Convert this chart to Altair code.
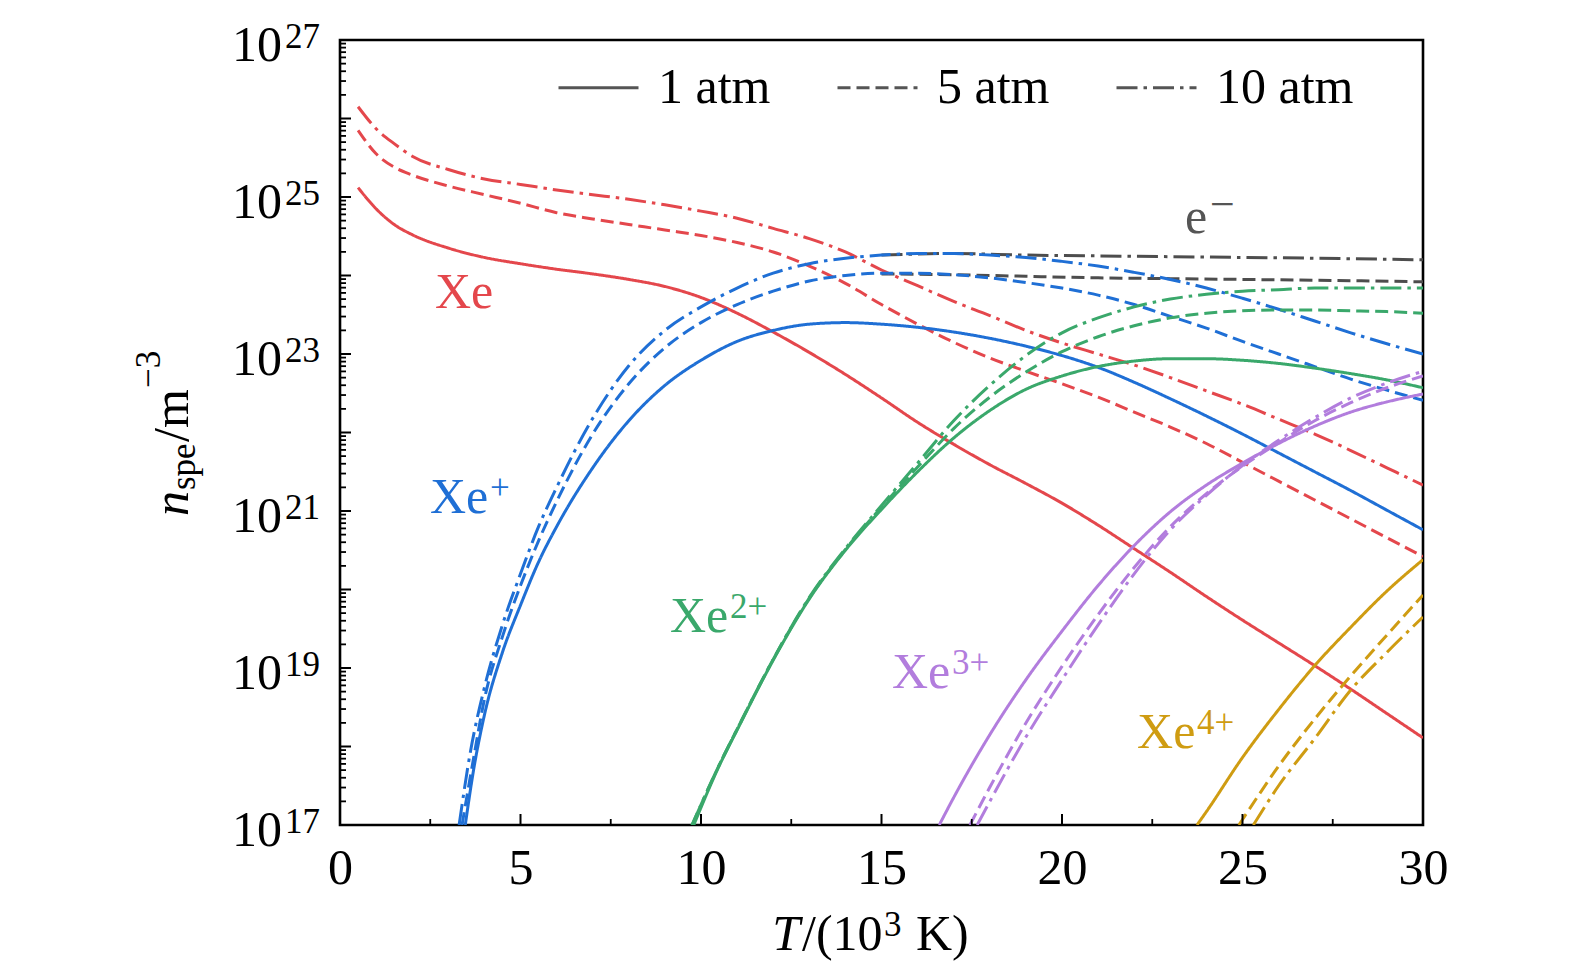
import altair as alt
import pandas as pd

FONT = "Liberation Serif"
W, H = 1083, 785

RED = "#E4474C"
BLUE = "#1F6FD5"
GREEN = "#3AA86B"
PURPLE = "#B27DDD"
GOLD = "#CF9C12"
GRAY = "#4D4D4D"

PRESSURES = ["1 atm", "5 atm", "10 atm"]
DASHES = [[1, 0], [13, 6], [21, 6, 3.5, 6]]

# ---- data: T in 10^3 K, values are log10(n / m^-3) ----
xe_T = [0.5, 1, 1.5, 2, 3, 4, 5, 6, 7, 8, 9, 10, 11, 12, 13, 14, 15, 16, 17, 18,
        19, 20, 21, 22, 23, 24, 25, 26, 27, 28, 29, 30]
xe_1 = [25.12, 24.85, 24.65, 24.52, 24.35, 24.23, 24.15, 24.08, 24.02, 23.95, 23.86,
        23.72, 23.52, 23.28, 23.02, 22.74, 22.44, 22.13, 21.85, 21.59, 21.35, 21.1,
        20.82, 20.52, 20.22, 19.91, 19.61, 19.32, 19.03, 18.73, 18.42, 18.11]
xe_5 = [25.85, 25.55, 25.38, 25.28, 25.14, 25.03, 24.92, 24.8, 24.72, 24.65, 24.58,
        24.51, 24.42, 24.3, 24.12, 23.9, 23.63, 23.38, 23.15, 22.95, 22.78, 22.62,
        22.45, 22.26, 22.07, 21.86, 21.62, 21.38, 21.14, 20.9, 20.66, 20.42]
xe_10 = [26.15, 25.87, 25.68, 25.52, 25.35, 25.23, 25.16, 25.09, 25.03, 24.97, 24.9,
         24.82, 24.73, 24.6, 24.47, 24.3, 24.07, 23.87, 23.67, 23.49, 23.3, 23.14,
         23.0, 22.86, 22.7, 22.53, 22.36, 22.17, 21.98, 21.77, 21.55, 21.33]

xe1_T_1 = [3.47, 3.7, 4, 4.5, 5, 5.5, 6, 7, 8, 9, 10, 11, 12, 13, 14, 15, 16, 17, 18,
           19, 20, 21, 22, 23, 24, 25, 26, 27, 28, 29, 30]
xe1_1 = [17.0, 17.7, 18.4, 19.2, 19.8, 20.35, 20.8, 21.55, 22.15, 22.6, 22.92, 23.16,
         23.3, 23.38, 23.4, 23.38, 23.34, 23.28, 23.2, 23.1, 22.98, 22.83, 22.64,
         22.43, 22.21, 21.98, 21.74, 21.5, 21.26, 21.01, 20.76]
xe1_T_5 = [3.38, 3.7, 4, 4.5, 5, 5.5, 6, 7, 8, 9, 10, 11, 12, 13, 14, 15, 16, 17, 18,
           19, 20, 21, 22, 23, 24, 25, 26, 27, 28, 29, 30]
xe1_5 = [17.0, 17.85, 18.6, 19.4, 20.05, 20.62, 21.12, 21.98, 22.62, 23.08, 23.4, 23.63,
         23.8, 23.93, 24.0, 24.03, 24.03, 24.01, 23.97, 23.91, 23.84, 23.75, 23.63,
         23.48, 23.33, 23.16, 23.0, 22.84, 22.68, 22.54, 22.41]
xe1_T_10 = [3.3, 3.6, 4, 4.5, 5, 5.5, 6, 7, 8, 9, 10, 11, 12, 13, 14, 15, 16, 17, 18,
            19, 20, 21, 22, 23, 24, 25, 26, 27, 28, 29, 30]
xe1_10 = [17.0, 17.9, 18.75, 19.55, 20.2, 20.8, 21.3, 22.18, 22.85, 23.3, 23.6, 23.84,
          24.03, 24.15, 24.22, 24.26, 24.28, 24.28, 24.26, 24.23, 24.18, 24.12, 24.04,
          23.95, 23.84, 23.71, 23.57, 23.42, 23.27, 23.13, 23.0]

xe2_T_1 = [9.8, 10.5, 11, 12, 13, 14, 15, 16, 17, 18, 19, 20, 21, 22, 23, 24, 25, 26,
           27, 28, 29, 30]
xe2_1 = [17.0, 17.75, 18.21, 19.1, 19.88, 20.5, 21.02, 21.5, 21.93, 22.28, 22.55, 22.72,
         22.84, 22.91, 22.94, 22.94, 22.92, 22.88, 22.82, 22.75, 22.67, 22.57]
xe2_T_hp = [9.75, 10.5, 11, 12, 13, 14, 15, 16, 17, 18, 19, 20, 21, 22, 23, 24, 25, 26,
            27, 28, 29, 30]
xe2_5 = [17.0, 17.76, 18.22, 19.11, 19.89, 20.51, 21.05, 21.56, 22.05, 22.45, 22.77,
         23.03, 23.22, 23.36, 23.46, 23.52, 23.55, 23.56, 23.56, 23.55, 23.54, 23.52]
xe2_10 = [17.0, 17.76, 18.22, 19.11, 19.9, 20.52, 21.07, 21.61, 22.15, 22.6, 22.98,
          23.27, 23.46, 23.6, 23.7, 23.76, 23.8, 23.82, 23.84, 23.84, 23.84, 23.84]

xe3_T_1 = [16.6, 17, 18, 19, 20, 21, 22, 23, 24, 25, 26, 27, 28, 29, 30]
xe3_1 = [17.0, 17.35, 18.15, 18.85, 19.47, 20.05, 20.56, 20.99, 21.33, 21.61, 21.86,
         22.08, 22.26, 22.39, 22.49]
xe3_T_5 = [17.45, 18, 19, 20, 21, 22, 23, 24, 25, 26, 27, 28, 29, 30]
xe3_5 = [17.0, 17.48, 18.3, 19.02, 19.68, 20.28, 20.8, 21.22, 21.57, 21.87, 22.15,
         22.38, 22.57, 22.72]
xe3_T_10 = [17.65, 18, 19, 20, 21, 22, 23, 24, 25, 26, 27, 28, 29, 30]
xe3_10 = [17.0, 17.3, 18.12, 18.85, 19.55, 20.2, 20.76, 21.2, 21.58, 21.9, 22.19,
          22.44, 22.63, 22.78]

xe4_T_1 = [23.74, 24, 25, 26, 27, 28, 29, 30]
xe4_1 = [17.0, 17.17, 17.86, 18.47, 19.03, 19.52, 19.98, 20.38]
xe4_T_5 = [24.9, 25, 26, 27, 28, 29, 30]
xe4_5 = [17.0, 17.07, 17.75, 18.35, 18.9, 19.42, 19.93]
xe4_T_10 = [25.3, 26, 27, 28, 29, 30]
xe4_10 = [17.0, 17.5, 18.1, 18.72, 19.2, 19.65]

el_T = [15, 17, 19, 21, 23, 25, 27, 30]
el_5 = [24.02, 24.01, 23.99, 23.97, 23.96, 23.95, 23.94, 23.92]
el_10 = [24.26, 24.28, 24.26, 24.25, 24.24, 24.23, 24.22, 24.2]

series = [
    ("e-", "5 atm", el_T, el_5), ("e-", "10 atm", el_T, el_10),
    ("Xe", "1 atm", xe_T, xe_1), ("Xe", "5 atm", xe_T, xe_5), ("Xe", "10 atm", xe_T, xe_10),
    ("Xe+", "1 atm", xe1_T_1, xe1_1), ("Xe+", "5 atm", xe1_T_5, xe1_5),
    ("Xe+", "10 atm", xe1_T_10, xe1_10),
    ("Xe2+", "1 atm", xe2_T_1, xe2_1), ("Xe2+", "5 atm", xe2_T_hp, xe2_5),
    ("Xe2+", "10 atm", xe2_T_hp, xe2_10),
    ("Xe3+", "1 atm", xe3_T_1, xe3_1), ("Xe3+", "5 atm", xe3_T_5, xe3_5),
    ("Xe3+", "10 atm", xe3_T_10, xe3_10),
    ("Xe4+", "1 atm", xe4_T_1, xe4_1), ("Xe4+", "5 atm", xe4_T_5, xe4_5),
    ("Xe4+", "10 atm", xe4_T_10, xe4_10),
]
species_colors = {"e-": GRAY, "Xe": RED, "Xe+": BLUE, "Xe2+": GREEN,
                  "Xe3+": PURPLE, "Xe4+": GOLD}

rows = []
for sp, p, Ts, Ls in series:
    for t, l in zip(Ts, Ls):
        rows.append({"T": t, "n": 10.0 ** l, "species": sp, "p": p})
df = pd.DataFrame(rows)

# species labels
lab_base = ["Xe", "Xe", "Xe", "Xe", "Xe"]
lab_sup = ["", "+", "2+", "3+", "4+"]
lab_T = [2.63, 2.49, 9.14, 15.29, 22.08]
lab_L = [23.59, 20.97, 19.46, 18.75, 17.98]
lab_col = [RED, BLUE, GREEN, PURPLE, GOLD]
lab_df = pd.DataFrame({"T": lab_T, "n": [10.0 ** v for v in lab_L],
                       "base": lab_base, "sup": lab_sup, "col": lab_col})
el_lab_df = pd.DataFrame({"T": [23.41], "n": [10.0 ** 24.54],
                          "base": ["e"], "sup": ["\u2212"]})

# ticks
x_major = [0, 5, 10, 15, 20, 25, 30]
x_minor = [2.5, 7.5, 12.5, 17.5, 22.5, 27.5]
y_decades = list(range(17, 28))
y_label_exps = [17, 19, 21, 23, 25, 27]
y_major_df = pd.DataFrame({"n": [10.0 ** k for k in y_decades]})
y_minor_df = pd.DataFrame({"n": [m * 10.0 ** k for k in range(17, 27) for m in range(2, 10)]})
x_major_df = pd.DataFrame({"T": x_major})
x_minor_df = pd.DataFrame({"T": x_minor})
y_lab_df = pd.DataFrame({"n": [10.0 ** k for k in y_label_exps],
                         "e": [str(k) for k in y_label_exps]})

xscale = alt.Scale(domain=[0, 30], nice=False, zero=False)
yscale = alt.Scale(type="log", domain=[1e17, 1e27], nice=False)
dash_scale = alt.Scale(domain=PRESSURES, range=DASHES)

xaxis = alt.Axis(values=x_major, ticks=False, tickSize=0, domain=False, grid=False,
                 labelFont=FONT, labelFontSize=50, labelColor="black",
                 labelPadding=18, labelFlush=False, labelOverlap=False,
                 format="d", title=None)

legend = alt.Legend(title=None, orient="none", legendX=217, legendY=6,
                    direction="horizontal", symbolType="stroke", symbolSize=6400,
                    symbolStrokeWidth=3, symbolStrokeColor="#555555",
                    labelFont=FONT, labelFontSize=50, labelColor="black",
                    labelOffset=18, columnPadding=60, padding=0, labelLimit=600)

X = alt.X("T:Q", scale=xscale, axis=xaxis)
Y = alt.Y("n:Q", scale=yscale, axis=None)

layers = []
for sp in ["e-", "Xe", "Xe+", "Xe2+", "Xe3+", "Xe4+"]:
    layers.append(
        alt.Chart(df).transform_filter(alt.datum.species == sp)
        .mark_line(clip=True, strokeWidth=3, color=species_colors[sp],
                   interpolate="monotone")
        .encode(x=X, y=Y,
                strokeDash=alt.StrokeDash("p:N", scale=dash_scale, legend=legend),
                detail="p:N")
    )

# tick marks (inward)
layers.append(alt.Chart(y_major_df).mark_rule(color="black", strokeWidth=2)
              .encode(y=Y, x=alt.value(0), x2=alt.value(11)))
layers.append(alt.Chart(y_minor_df).mark_rule(color="black", strokeWidth=1.8)
              .encode(y=Y, x=alt.value(0), x2=alt.value(6)))
layers.append(alt.Chart(x_major_df).mark_rule(color="black", strokeWidth=2)
              .encode(x=X, y=alt.value(H), y2=alt.value(H - 11)))
layers.append(alt.Chart(x_minor_df).mark_rule(color="black", strokeWidth=1.8)
              .encode(x=X, y=alt.value(H), y2=alt.value(H - 6)))

# y tick labels 10^k
layers.append(alt.Chart(y_lab_df).mark_text(font=FONT, fontSize=50, align="right",
                                            baseline="alphabetic", dy=21, color="black")
              .encode(y=Y, x=alt.value(-58), text=alt.value("10")))
layers.append(alt.Chart(y_lab_df).mark_text(font=FONT, fontSize=35, align="left",
                                            baseline="alphabetic", dy=8, color="black")
              .encode(y=Y, x=alt.value(-55), text="e:N"))

# species labels
layers.append(alt.Chart(lab_df).mark_text(font=FONT, fontSize=50, align="left",
                                          baseline="alphabetic")
              .encode(x=X, y=Y, text="base:N", color=alt.Color("col:N", scale=None)))
layers.append(alt.Chart(lab_df).mark_text(font=FONT, fontSize=35, align="left",
                                          baseline="alphabetic", dx=60, dy=-14)
              .encode(x=X, y=Y, text="sup:N", color=alt.Color("col:N", scale=None)))
layers.append(alt.Chart(el_lab_df).mark_text(font=FONT, fontSize=50, align="left",
                                             baseline="alphabetic", color="#555555")
              .encode(x=X, y=Y, text="base:N"))
layers.append(alt.Chart(el_lab_df).mark_text(font=FONT, fontSize=44, align="left",
                                             baseline="alphabetic", dx=25, dy=-14,
                                             color="#555555")
              .encode(x=X, y=Y, text="sup:N"))

# axis titles
one = pd.DataFrame({"a": [0]})


def txt(s, x, y, size=50, align="left", angle=0, style="normal"):
    return alt.Chart(one).mark_text(text=s, font=FONT, fontSize=size, align=align,
                                    baseline="alphabetic", angle=angle,
                                    fontStyle=style, color="black"
                                    ).encode(x=alt.value(x), y=alt.value(y))


layers += [
    txt("T", 460, 910, align="right", style="italic"),
    txt("/(10", 462, 910),
    txt("3", 544, 896, size=35),
    txt("K)", 576, 910),
    txt("n", -152, 476, angle=270, style="italic"),
    txt("spe", -145, 450, size=35, angle=270),
    txt("/m", -152, 402, angle=270),
    txt("\u22123", -180, 348, size=35, angle=270),
]

chart = alt.layer(*layers).properties(
    width=W, height=H, background="white",
    autosize=alt.AutoSizeParams(type="none"),
    padding={"left": 332, "top": 32, "right": 130, "bottom": 141},
).configure_view(stroke="black", strokeWidth=2.6)

chart.save("out.html", embed_options={"renderer": "svg", "actions": False})
